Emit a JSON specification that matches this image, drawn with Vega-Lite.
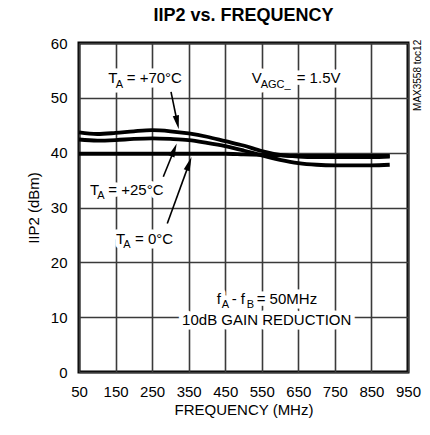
{
  "$schema": "https://vega.github.io/schema/vega-lite/v6.json",
  "width": 329,
  "height": 329,
  "autosize": {"type": "none"},
  "padding": {"left": 79, "top": 43, "right": 22, "bottom": 63},
  "background": "white",
  "config": {
    "font": "Liberation Sans",
    "view": {"stroke": "black", "strokeWidth": 3},
    "axis": {
      "grid": true, "gridColor": "#3a3a3a", "gridWidth": 1.6, "gridOpacity": 1, "domain": false, "ticks": false,
      "labelFont": "Liberation Sans", "labelFontSize": 15, "labelColor": "black", "labelPadding": 12,
      "titleFont": "Liberation Sans", "titleFontSize": 15, "titleFontWeight": "normal", "titleColor": "black"
    }
  },
  "title": {"text": "IIP2 vs. FREQUENCY", "fontSize": 18, "fontWeight": "bold", "anchor": "middle", "offset": 11, "color": "black", "font": "Liberation Sans"},
  "datasets": {
    "curves": [
      {"f": 50, "v": 43.7, "s": "70"}, {"f": 100, "v": 43.4, "s": "70"}, {"f": 150, "v": 43.6, "s": "70"}, {"f": 200, "v": 43.9, "s": "70"}, {"f": 250, "v": 44.1, "s": "70"}, {"f": 300, "v": 43.9, "s": "70"}, {"f": 350, "v": 43.5, "s": "70"}, {"f": 400, "v": 42.9, "s": "70"}, {"f": 450, "v": 42.1, "s": "70"}, {"f": 500, "v": 41.3, "s": "70"}, {"f": 550, "v": 40.3, "s": "70"}, {"f": 600, "v": 39.6, "s": "70"}, {"f": 650, "v": 39.3, "s": "70"}, {"f": 700, "v": 39.2, "s": "70"}, {"f": 750, "v": 39.2, "s": "70"}, {"f": 800, "v": 39.2, "s": "70"}, {"f": 850, "v": 39.2, "s": "70"}, {"f": 900, "v": 39.3, "s": "70"},
      {"f": 50, "v": 42.4, "s": "25"}, {"f": 100, "v": 42.2, "s": "25"}, {"f": 150, "v": 42.3, "s": "25"}, {"f": 200, "v": 42.5, "s": "25"}, {"f": 250, "v": 42.6, "s": "25"}, {"f": 300, "v": 42.5, "s": "25"}, {"f": 350, "v": 42.3, "s": "25"}, {"f": 400, "v": 41.8, "s": "25"}, {"f": 450, "v": 41.2, "s": "25"}, {"f": 500, "v": 40.4, "s": "25"}, {"f": 550, "v": 39.5, "s": "25"}, {"f": 600, "v": 38.7, "s": "25"}, {"f": 650, "v": 38.1, "s": "25"}, {"f": 700, "v": 37.8, "s": "25"}, {"f": 750, "v": 37.7, "s": "25"}, {"f": 800, "v": 37.7, "s": "25"}, {"f": 850, "v": 37.7, "s": "25"}, {"f": 900, "v": 37.8, "s": "25"},
      {"f": 50, "v": 39.8, "s": "0"}, {"f": 100, "v": 39.8, "s": "0"}, {"f": 150, "v": 39.8, "s": "0"}, {"f": 200, "v": 39.8, "s": "0"}, {"f": 250, "v": 39.8, "s": "0"}, {"f": 300, "v": 39.8, "s": "0"}, {"f": 350, "v": 39.8, "s": "0"}, {"f": 400, "v": 39.8, "s": "0"}, {"f": 450, "v": 39.8, "s": "0"}, {"f": 500, "v": 39.7, "s": "0"}, {"f": 550, "v": 39.6, "s": "0"}, {"f": 600, "v": 39.5, "s": "0"}, {"f": 650, "v": 39.4, "s": "0"}, {"f": 700, "v": 39.4, "s": "0"}, {"f": 750, "v": 39.4, "s": "0"}, {"f": 800, "v": 39.4, "s": "0"}, {"f": 850, "v": 39.4, "s": "0"}, {"f": 900, "v": 39.4, "s": "0"}
    ],
    "arrows": [
      {"id": "70", "f": 301.7, "v": 51.1, "f2": 318.9, "v2": 45.5},
      {"id": "25", "f": 280.6, "v": 35.6, "f2": 310.2, "v2": 40.5},
      {"id": "0", "f": 291.5, "v": 27.1, "f2": 351.2, "v2": 38.0}
    ],
    "main": [
      {"f": 130.2, "v": 52.65, "t": "T"}, {"f": 180.5, "v": 52.65, "t": "= +70°C"},
      {"f": 522.4, "v": 52.65, "t": "V"}, {"f": 645.5, "v": 52.65, "t": "= 1.5V"},
      {"f": 80.1, "v": 32.28, "t": "T"}, {"f": 130.2, "v": 32.28, "t": "= +25°C"},
      {"f": 151.2, "v": 23.35, "t": "T"}, {"f": 203.2, "v": 23.35, "t": "= 0°C"},
      {"f": 426.7, "v": 12.4, "t": "f"}, {"f": 467.7, "v": 12.4, "t": "- f"}, {"f": 536.1, "v": 12.4, "t": "= 50MHz"}
    ],
    "subs": [
      {"f": 150.4, "v": 51.74, "t": "A"}, {"f": 547, "v": 51.74, "t": "AGC_"},
      {"f": 100, "v": 31.5, "t": "A"}, {"f": 171.2, "v": 22.56, "t": "A"},
      {"f": 440.4, "v": 11.62, "t": "A"}, {"f": 508.8, "v": 11.62, "t": "B"}
    ],
    "center": [{"f": 563.5, "v": 8.57, "t": "10dB GAIN REDUCTION"}],
    "side": [{"f": 976, "v": 54.1, "t": "MAX3558 toc12"}]
  },
  "encoding": {
    "x": {"field": "f", "type": "quantitative", "scale": {"domain": [50, 950], "nice": false, "zero": false},
      "axis": {"values": [50, 150, 250, 350, 450, 550, 650, 750, 850, 950], "title": "FREQUENCY (MHz)", "titlePadding": 3, "labelFlush": false, "labelOverlap": false}},
    "y": {"field": "v", "type": "quantitative", "scale": {"domain": [0, 60], "nice": false},
      "axis": {"values": [0, 10, 20, 30, 40, 50, 60], "title": "IIP2 (dBm)", "titlePadding": 9, "labelFlush": false, "labelOverlap": false}}
  },
  "layer": [
    {
      "data": {"name": "curves"},
      "mark": {"type": "line", "stroke": "black", "strokeWidth": 3.8, "interpolate": "monotone"},
      "encoding": {"detail": {"field": "s"}}
    },
    {
      "data": {"name": "main"},
      "mark": {"type": "text", "align": "left", "baseline": "alphabetic", "fontSize": 15, "stroke": "white", "strokeWidth": 9, "strokeJoin": "round", "fill": "white"},
      "encoding": {"text": {"field": "t"}}
    },
    {
      "data": {"name": "subs"},
      "mark": {"type": "text", "align": "left", "baseline": "alphabetic", "fontSize": 11, "stroke": "white", "strokeWidth": 9, "strokeJoin": "round", "fill": "white"},
      "encoding": {"text": {"field": "t"}}
    },
    {
      "data": {"name": "center"},
      "mark": {"type": "text", "align": "center", "baseline": "alphabetic", "fontSize": 15, "stroke": "white", "strokeWidth": 9, "strokeJoin": "round", "fill": "white"},
      "encoding": {"text": {"field": "t"}}
    },
    {
      "data": {"name": "arrows"},
      "mark": {"type": "rule", "stroke": "black", "strokeWidth": 1.6},
      "encoding": {"x2": {"field": "f2"}, "y2": {"field": "v2"}}
    },
    {
      "data": {"name": "arrows"},
      "transform": [{"filter": "datum.id == '70'"}],
      "mark": {"type": "point", "shape": "M0,-1L0.45,1L-0.45,1Z", "filled": true, "fill": "black", "stroke": null, "opacity": 1, "size": 196, "angle": 168},
      "encoding": {"x": {"field": "f2", "type": "quantitative"}, "y": {"field": "v2", "type": "quantitative"}}
    },
    {
      "data": {"name": "arrows"},
      "transform": [{"filter": "datum.id == '25'"}],
      "mark": {"type": "point", "shape": "M0,-1L0.45,1L-0.45,1Z", "filled": true, "fill": "black", "stroke": null, "opacity": 1, "size": 196, "angle": 22},
      "encoding": {"x": {"field": "f2", "type": "quantitative"}, "y": {"field": "v2", "type": "quantitative"}}
    },
    {
      "data": {"name": "arrows"},
      "transform": [{"filter": "datum.id == '0'"}],
      "mark": {"type": "point", "shape": "M0,-1L0.45,1L-0.45,1Z", "filled": true, "fill": "black", "stroke": null, "opacity": 1, "size": 196, "angle": 20},
      "encoding": {"x": {"field": "f2", "type": "quantitative"}, "y": {"field": "v2", "type": "quantitative"}}
    },
    {
      "data": {"name": "main"},
      "mark": {"type": "text", "align": "left", "baseline": "alphabetic", "fontSize": 15, "fill": "black"},
      "encoding": {"text": {"field": "t"}}
    },
    {
      "data": {"name": "subs"},
      "mark": {"type": "text", "align": "left", "baseline": "alphabetic", "fontSize": 11, "fill": "black"},
      "encoding": {"text": {"field": "t"}}
    },
    {
      "data": {"name": "center"},
      "mark": {"type": "text", "align": "center", "baseline": "alphabetic", "fontSize": 15, "fill": "black"},
      "encoding": {"text": {"field": "t"}}
    },
    {
      "data": {"name": "side"},
      "mark": {"type": "text", "align": "center", "baseline": "middle", "fontSize": 10, "angle": 270, "fill": "black"},
      "encoding": {"text": {"field": "t"}}
    }
  ]
}
